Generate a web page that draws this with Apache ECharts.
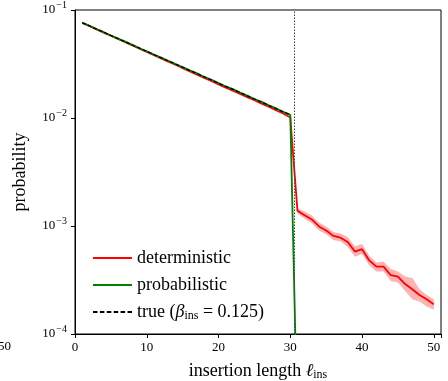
<!DOCTYPE html>
<html>
<head>
<meta charset="utf-8">
<script src="https://cdn.jsdelivr.net/npm/echarts@6/dist/echarts.min.js"></script>
<style>html,body{margin:0;padding:0;background:#fff}#c{width:448px;height:381px}</style>
</head>
<body>
<div id="c"></div>
<script>
// insertion length 1..30 (main decay region)
const lengthsMain = [1,2,3,4,5,6,7,8,9,10,11,12,13,14,15,16,17,18,19,20,21,22,23,24,25,26,27,28,29,30];
const trueValues = [0.0762,0.0713,0.0666,0.0622,0.0581,0.0543,0.0508,0.0474,0.0443,0.0414,0.0387,0.0361,0.0338,0.0316,0.0295,0.0275,0.0258,0.0241,0.0225,0.0210,0.0196,0.0184,0.0172,0.0160,0.0150,0.0140,0.0131,0.0122,0.0114,0.0107];
const probValues = [0.0760,0.0712,0.0667,0.0623,0.0580,0.0544,0.0509,0.0475,0.0442,0.0415,0.0386,0.0362,0.0339,0.0315,0.0296,0.0276,0.0259,0.0240,0.0226,0.0211,0.0196,0.0185,0.0172,0.0161,0.0150,0.0141,0.0131,0.0123,0.0114,0.0107];
// probabilistic drops off beyond the truncation
const probTailX = [31];
const probTail = [0.000013];
const detValues = [0.0765,0.0712,0.0662,0.0618,0.0577,0.0539,0.0503,0.0470,0.0438,0.0409,0.0382,0.0356,0.0333,0.0311,0.0290,0.0270,0.0252,0.0235,0.0220,0.0205,0.0191,0.0179,0.0167,0.0156,0.0146,0.0136,0.0127,0.0118,0.0110,0.0101];
// deterministic tail 31..50
const lengthsTail = [31,32,33,34,35,36,37,38,39,40,41,42,43,44,45,46,47,48,49,50];
const detTail = [0.00138,0.00126,0.00115,0.00099,0.00091,0.00081,0.00078,0.00071,0.00058,0.00061,0.00048,0.00042,0.00042,0.00035,0.00034,0.00029,0.00026,0.00023,0.00021,0.000188];
const bandX = [30,31,32,33,34,35,36,37,38,39,40,41,42,43,44,45,46,47,48,49,50];
const bandLower = [0.0099,0.00131,0.00117,0.00106,0.00091,0.00084,0.00074,0.00072,0.00064,0.00052,0.00055,0.00043,0.00038,0.00038,0.00031,0.00030,0.00025,0.00021,0.00020,0.00018,0.000168];
const bandUpper = [0.0103,0.00145,0.00136,0.00125,0.00108,0.00099,0.00088,0.00085,0.00079,0.00065,0.00068,0.00053,0.00046,0.00047,0.00040,0.00038,0.00034,0.00033,0.00026,0.00023,0.00021];
const truncation = 30.5;
const xTicks = [0,10,20,30,40,50];
const yTicks = [1e-4,1e-3,1e-2,1e-1];
const legendNames = ['deterministic', 'probabilistic', 'true (β_ins = 0.125)'];

const pairs = (xs, ys) => xs.map((x, i) => [x, ys[i]]);
const FONT = 'Liberation Serif';
const solidIcon = 'path://M0,0h39v2h-39z';
const dashIcon = 'path://M0,0h4.5v2h-4.5z M6.9,0h4.5v2h-4.5z M13.8,0h4.5v2h-4.5z M20.7,0h4.5v2h-4.5z M27.6,0h4.5v2h-4.5z M34.5,0h4.5v2h-4.5z';

const chart = echarts.init(document.getElementById('c'), null, {renderer: 'canvas'});
chart.setOption({
  animation: false,
  backgroundColor: '#fff',
  textStyle: {fontFamily: FONT, color: '#000'},
  grid: {left: 75, top: 10, right: 7, bottom: 47, show: true, borderColor: '#000', borderWidth: 1,
    backgroundColor: 'transparent', containLabel: false, outerBoundsMode: 'none'},
  xAxis: {
    type: 'value', min: 0, max: 51, interval: 10,
    axisLine: {show: true, onZero: false, lineStyle: {color: '#000', width: 1}},
    axisTick: {show: true, inside: false, length: 4, lineStyle: {color: '#000'}},
    splitLine: {show: false},
    axisLabel: {fontFamily: FONT, fontSize: 13, color: '#000', margin: 7,
      formatter: v => xTicks.indexOf(v) >= 0 ? String(v) : ''},
    name: '{a|insertion length }{l|ℓ}{s|ins}',
    nameLocation: 'middle', nameGap: 27,
    nameTextStyle: {rich: {
      a: {fontFamily: FONT, fontSize: 18, color: '#000'},
      l: {fontFamily: FONT, fontSize: 18, fontStyle: 'italic', color: '#000'},
      s: {fontFamily: FONT, fontSize: 12, color: '#000', padding: [8, 0, 0, 0]}
    }}
  },
  yAxis: {
    type: 'log', logBase: 10, min: 1e-4, max: 1e-1,
    axisLine: {show: true, lineStyle: {color: '#000', width: 1}},
    axisTick: {show: true, inside: false, length: 4, lineStyle: {color: '#000'}},
    splitLine: {show: false},
    minorTick: {show: false},
    axisLabel: {margin: 8,
      formatter: v => {
        const e = Math.round(Math.log10(v));
        return '{b|10}{s|−' + Math.abs(e) + '}';
      },
      rich: {
        b: {fontFamily: FONT, fontSize: 13, color: '#000'},
        s: {fontFamily: FONT, fontSize: 10, color: '#000', padding: [0, 0, 9, 1]}
      }
    },
    name: 'probability', nameLocation: 'middle', nameGap: 46,
    nameTextStyle: {fontFamily: FONT, fontSize: 18, color: '#000'}
  },
  legend: {
    orient: 'vertical', left: 93, top: 249, padding: 0,
    itemWidth: 39, itemHeight: 2, itemGap: 9, symbolKeepAspect: false,
    data: [
      {name: legendNames[0], icon: solidIcon},
      {name: legendNames[1], icon: solidIcon},
      {name: legendNames[2], icon: dashIcon}
    ],
    formatter: n => n === legendNames[2] ? '{a|true (}{i|β}{s|ins}{a| = 0.125)}' : '{a|' + n + '}',
    textStyle: {fontFamily: FONT, fontSize: 18, color: '#000',
      rich: {
        a: {fontFamily: FONT, fontSize: 18, color: '#000'},
        i: {fontFamily: FONT, fontSize: 18, fontStyle: 'italic', color: '#000'},
        s: {fontFamily: FONT, fontSize: 12, color: '#000', padding: [8, 0, 0, 0]}
      }
    }
  },
  series: [
    {
      type: 'custom', name: 'band', silent: true, z: 1,
      data: [0],
      renderItem: (params, api) => {
        const pts = [];
        for (let i = 0; i < bandX.length; i++) pts.push(api.coord([bandX[i], bandUpper[i]]));
        for (let i = bandX.length - 1; i >= 0; i--) pts.push(api.coord([bandX[i], bandLower[i]]));
        return {type: 'polygon', shape: {points: pts}, style: {fill: 'rgba(255,0,0,0.3)', stroke: null}};
      }
    },
    {
      type: 'line', name: 'deterministic', z: 2,
      data: pairs(lengthsMain, detValues).concat(pairs(lengthsTail, detTail)),
      showSymbol: false, symbol: 'none',
      lineStyle: {color: '#ff0000', width: 1.8}, itemStyle: {color: '#ff0000'}
    },
    {
      type: 'line', name: 'probabilistic', z: 3,
      data: pairs(lengthsMain, probValues).concat(pairs(probTailX, probTail)),
      showSymbol: false, symbol: 'none', clip: true,
      lineStyle: {color: '#008000', width: 1.8}, itemStyle: {color: '#008000'}
    },
    {
      type: 'line', name: legendNames[2], z: 4,
      data: pairs(lengthsMain, trueValues),
      showSymbol: false, symbol: 'none',
      lineStyle: {color: '#000', width: 1.3, type: [4, 2]}, itemStyle: {color: '#000'},
      markLine: {
        silent: true, symbol: 'none', label: {show: false},
        lineStyle: {color: '#444', width: 1, type: [1.5, 1.5]},
        data: [{xAxis: truncation}]
      }
    }
  ],
  graphic: [
    {type: 'text', left: -2, top: 340, style: {text: '50', font: '13px ' + FONT, fill: '#000'}}
  ]
});
</script>
</body>
</html>
